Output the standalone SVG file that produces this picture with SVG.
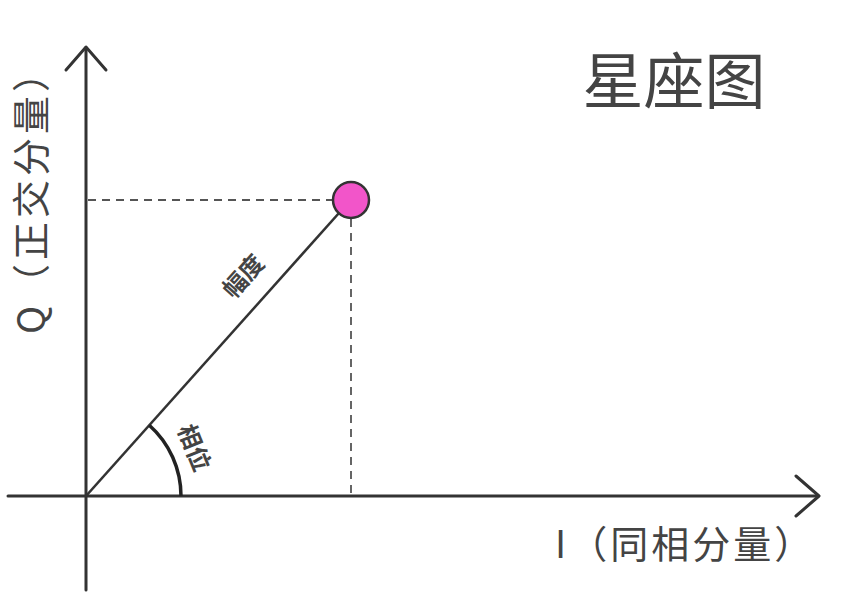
<svg xmlns="http://www.w3.org/2000/svg" width="851" height="592" viewBox="0 0 851 592">
<style>
.axis{stroke:#333;stroke-width:3;fill:none;stroke-linecap:round;stroke-linejoin:round}
.dash{stroke:#555;stroke-width:1.8;stroke-dasharray:8 6;fill:none}
.lbl{font-family:"Noto Sans CJK SC","Noto Sans",sans-serif;fill:#444}
</style>
<rect width="851" height="592" fill="#fff"/>
<g id="connectors">
<line class="dash" x1="88" y1="200" x2="333" y2="200"/>
<line class="dash" x1="351" y1="219" x2="351" y2="494"/>
<line class="axis" x1="86" y1="590" x2="86" y2="48"/>
<polyline class="axis" points="66,70 86,47 106,70"/>
<line class="axis" x1="8" y1="496" x2="818" y2="496"/>
<polyline class="axis" points="796,476 819,496 796,516"/>
<line x1="86" y1="496" x2="339" y2="213" stroke="#333" stroke-width="2.6"/>
<path d="M 149.3 425.2 A 95 95 0 0 1 181 496" stroke="#222" stroke-width="3.5" fill="none"/>
</g>
<g id="point">
<circle cx="351" cy="200" r="18" fill="#f255c9" stroke="#333" stroke-width="2.5"/>
</g>
<g id="title">
<text class="lbl" x="674" y="104" font-size="61" text-anchor="middle" fill="#333">星座图</text>
</g>
<g id="i-label">
<text class="lbl" x="555" y="558" font-size="38" letter-spacing="3">I（同相分量）</text>
</g>
<g id="q-label">
<text class="lbl" font-size="38" letter-spacing="4" text-anchor="middle" dominant-baseline="central" transform="translate(28,192) rotate(-90)">Q（正交分量）</text>
</g>
<g id="amplitude-label">
<text class="lbl" font-size="24" font-weight="700" text-anchor="middle" dominant-baseline="central" transform="translate(242,275) rotate(-48)">幅度</text>
</g>
<g id="phase-label">
<text class="lbl" font-size="24" font-weight="700" text-anchor="middle" dominant-baseline="central" transform="translate(196,447) rotate(68)">相位</text>
</g>
</svg>
